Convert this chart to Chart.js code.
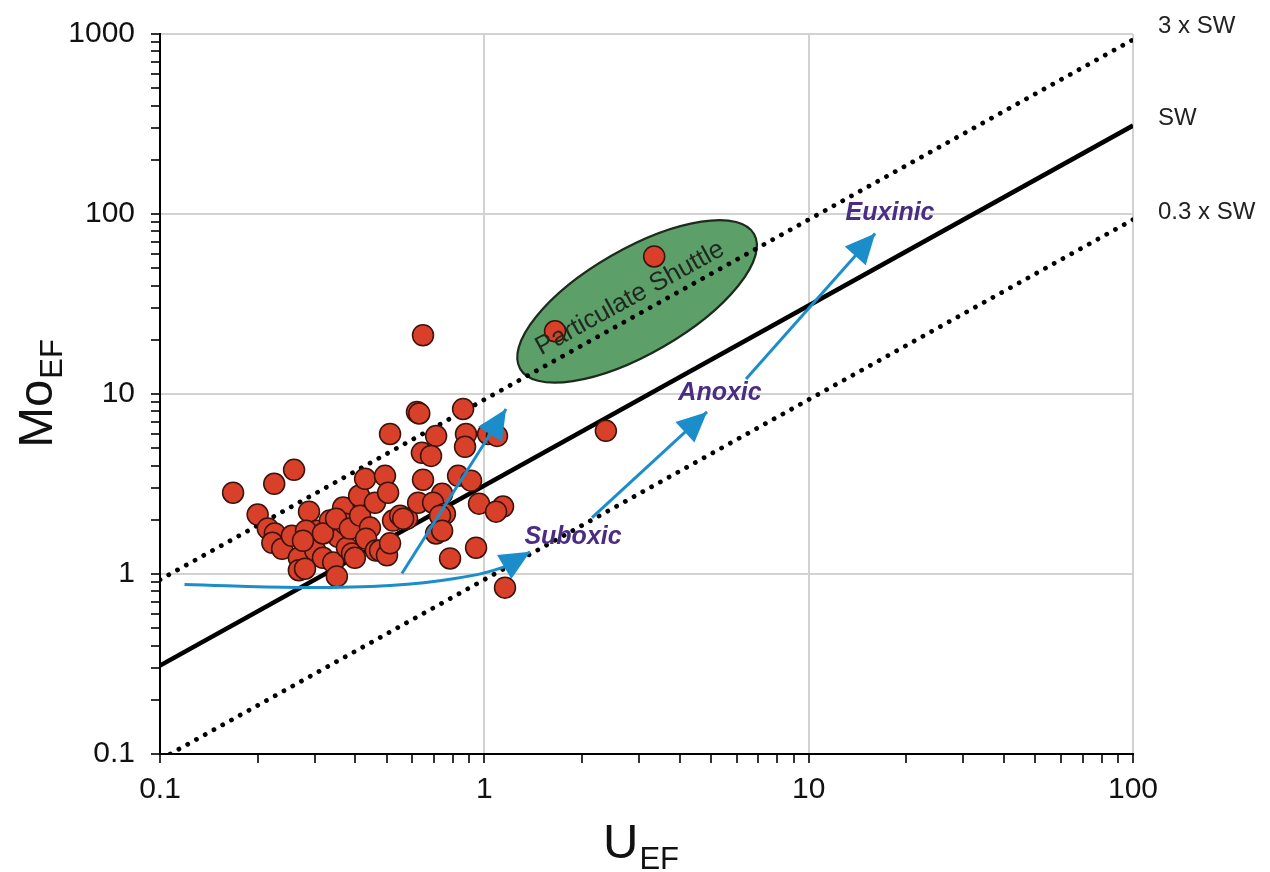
<!DOCTYPE html>
<html><head><meta charset="utf-8">
<script src="https://cdn.jsdelivr.net/npm/chart.js@4.4.1/dist/chart.umd.min.js"></script>
<style>html,body{margin:0;padding:0;background:#fff;}#wrap{width:1270px;height:872px;position:relative;}</style>
</head><body><div id="wrap"><canvas id="c" width="1270" height="872"></canvas></div>
<script>
// ---- data ----
const uEF = [0.168,0.225,0.259,0.200,0.215,0.226,0.222,0.238,0.255,0.268,0.268,0.288,0.305,0.282,0.301,0.318,0.342,0.351,0.354,0.367,0.334,0.318,0.372,0.377,0.276,0.280,0.349,0.385,0.391,0.411,0.429,0.414,0.444,0.432,0.460,0.463,0.494,0.505,0.523,0.550,0.477,0.501,0.399,0.512,0.578,0.512,0.647,0.620,0.630,0.860,0.710,0.642,0.685,0.878,0.872,1.027,1.094,0.647,0.830,0.910,0.625,0.741,0.695,0.963,1.142,1.087,0.562,0.756,0.730,0.710,0.741,0.784,0.943,1.158,1.652,3.34,2.37];
const moEF = [2.83,3.17,3.79,2.14,1.79,1.68,1.49,1.38,1.63,1.23,1.05,2.22,1.74,1.74,1.35,1.23,1.16,0.97,1.61,2.34,1.98,1.68,1.90,1.40,1.53,1.07,2.03,1.79,1.30,2.72,3.38,2.11,1.81,1.57,2.49,1.35,3.51,2.83,1.98,2.11,1.35,1.27,1.23,6.0,2.03,1.48,21.2,7.95,7.8,8.26,5.85,4.71,4.53,5.99,5.09,6.0,5.85,3.34,3.51,3.30,2.49,2.79,2.49,2.46,2.37,2.22,2.03,2.16,2.11,1.68,1.74,1.22,1.40,0.84,22.3,58.1,6.24];

const xTickValues = [0.1, 1, 10, 100];
const yTickValues = [0.1, 1, 10, 100, 1000];

// seawater Mo/U reference lines
const swU = [0.1, 100];
const swMo = [0.31, 310];
const sw3U = [0.1, 100];
const sw3Mo = [0.93, 930];
const sw03U = [0.1075, 100];
const sw03Mo = [0.1, 93];
const swLabels = ['3 x SW', 'SW', '0.3 x SW'];
const swLabelMo = [1108, 342, 102];

// blue pathway arrows
const suboxicPathU = [0.119, 0.270, 0.512, 0.812, 1.158, 1.383];
const suboxicPathMo = [0.875, 0.841, 0.864, 0.944, 1.10, 1.33];
const arrow1U = [0.557, 1.167];
const arrow1Mo = [1.006, 8.26];
const arrow2U = [2.148, 4.86];
const arrow2Mo = [2.056, 7.95];
const arrow3U = [6.41, 16.03];
const arrow3Mo = [12.1, 78.0];

const stageLabels = ['Suboxic', 'Anoxic', 'Euxinic'];
const stageU = [1.877, 5.33, 17.82];
const stageMo = [1.594, 10.13, 100.6];

// particulate shuttle field (centre, major-axis vertex, minor-axis vertex)
const shuttleCenter = [2.958, 32.7];
const shuttleMajor = [6.785, 77.5];
const shuttleMinor = [2.44, 58.0];
const shuttleLabel = 'Particulate Shuttle';
const shuttleLabelPos = [2.814, 34.0];

// ---- helpers ----
const zip = (xs, ys) => xs.map((x, i) => ({x, y: ys[i]}));
function logTicks(majors){
  const t = [];
  for (let i = 0; i < majors.length - 1; i++)
    for (let m = 1; m <= 9; m++) t.push({value: +(majors[i]*m).toPrecision(6)});
  t.push({value: majors[majors.length-1]});
  return t;
}
const FONT = '"Liberation Sans", Arial, sans-serif';
const BLUE = '#1c8dcb';

const decor = {
  id: 'decor',
  beforeDatasetsDraw(chart){
    const {ctx, scales:{x, y}} = chart;
    const cx = x.getPixelForValue(shuttleCenter[0]), cy = y.getPixelForValue(shuttleCenter[1]);
    const mx = x.getPixelForValue(shuttleMajor[0]), my = y.getPixelForValue(shuttleMajor[1]);
    const nx = x.getPixelForValue(shuttleMinor[0]), ny = y.getPixelForValue(shuttleMinor[1]);
    const a = Math.hypot(mx-cx, my-cy), b = Math.hypot(nx-cx, ny-cy);
    const ang = Math.atan2(my-cy, mx-cx);
    ctx.save();
    ctx.beginPath();
    ctx.ellipse(cx, cy, a, b, ang, 0, Math.PI*2);
    ctx.fillStyle = '#5c9f69';
    ctx.fill();
    ctx.lineWidth = 2.2;
    ctx.strokeStyle = '#1d2b1d';
    ctx.stroke();
    ctx.restore();
  },
  afterDatasetsDraw(chart){
    const {ctx} = chart;
    chart.data.datasets.forEach((ds, i) => {
      if (!ds.isArrow) return;
      const pts = chart.getDatasetMeta(i).data;
      const tip = pts[pts.length-1], prev = pts[pts.length-2];
      const dx = tip.x - prev.x, dy = tip.y - prev.y, d = Math.hypot(dx, dy);
      const ux = dx/d, uy = dy/d, L = 30, W = 14;
      ctx.save();
      ctx.beginPath();
      ctx.moveTo(tip.x, tip.y);
      ctx.lineTo(tip.x - L*ux - W*uy, tip.y - L*uy + W*ux);
      ctx.lineTo(tip.x - L*ux + W*uy, tip.y - L*uy - W*ux);
      ctx.closePath();
      ctx.fillStyle = BLUE;
      ctx.fill();
      ctx.restore();
    });
  },
  afterDraw(chart){
    const {ctx, chartArea, scales:{x, y}} = chart;
    ctx.save();
    // shuttle label
    const sx = x.getPixelForValue(shuttleLabelPos[0]), sy = y.getPixelForValue(shuttleLabelPos[1]);
    const cx = x.getPixelForValue(shuttleCenter[0]), cy = y.getPixelForValue(shuttleCenter[1]);
    const mx = x.getPixelForValue(shuttleMajor[0]), my = y.getPixelForValue(shuttleMajor[1]);
    ctx.translate(sx, sy);
    ctx.rotate(Math.atan2(my-cy, mx-cx) + 0.02);
    ctx.font = '26px ' + FONT;
    ctx.fillStyle = '#1f291f';
    ctx.textAlign = 'center';
    ctx.textBaseline = 'middle';
    ctx.fillText(shuttleLabel, 0, 0);
    ctx.restore();

    // stage labels
    ctx.save();
    ctx.font = 'italic bold 25px ' + FONT;
    ctx.fillStyle = '#4a2c85';
    ctx.textAlign = 'center';
    ctx.textBaseline = 'middle';
    stageLabels.forEach((t, i) => ctx.fillText(t, x.getPixelForValue(stageU[i]), y.getPixelForValue(stageMo[i])));
    ctx.restore();

    // right-hand SW labels
    ctx.save();
    ctx.font = '24px ' + FONT;
    ctx.fillStyle = '#222';
    ctx.textAlign = 'left';
    ctx.textBaseline = 'middle';
    swLabels.forEach((t, i) => ctx.fillText(t, chartArea.right + 25, y.getPixelForValue(swLabelMo[i])));
    ctx.restore();

    // axis titles with subscripts
    ctx.save();
    ctx.fillStyle = '#111';
    ctx.textBaseline = 'alphabetic';
    ctx.textAlign = 'left';
    const big = '49px ' + FONT, small = '31px ' + FONT;
    ctx.font = big; const wU = ctx.measureText('U').width;
    ctx.font = small; const wE = ctx.measureText('EF').width;
    let x0 = (chartArea.left + chartArea.right)/2 - (wU + wE)/2 - 6;
    ctx.font = big; ctx.fillText('U', x0, 858);
    ctx.font = small; ctx.fillText('EF', x0 + wU + 1, 869);
    ctx.restore();

    ctx.save();
    ctx.fillStyle = '#111';
    ctx.translate(52, (chartArea.top + chartArea.bottom)/2);
    ctx.rotate(-Math.PI/2);
    ctx.textAlign = 'left';
    ctx.textBaseline = 'alphabetic';
    ctx.font = big; const wM = ctx.measureText('Mo').width;
    const start = -(wM + wE)/2;
    ctx.fillText('Mo', start, 0);
    ctx.font = small; ctx.fillText('EF', start + wM + 1, 10);
    ctx.restore();
  }
};

const lineBase = {showLine: true, pointRadius: 0, pointHoverRadius: 0, fill: false};
const dotted = {borderColor: '#000', borderWidth: 4.8, borderDash: [0.01, 10], borderCapStyle: 'round'};

const datasets = [
  Object.assign({data: zip(sw3U, sw3Mo), order: 5}, lineBase, dotted),
  Object.assign({data: zip(sw03U, sw03Mo), order: 5}, lineBase, dotted),
  Object.assign({data: zip(swU, swMo), order: 5, borderColor: '#000', borderWidth: 4.5}, lineBase),
  {data: zip(uEF, moEF), order: 3, showLine: false, pointRadius: 10.5, pointHoverRadius: 10.5,
   backgroundColor: '#d8402a', borderColor: '#3a130c', borderWidth: 1.5},
  Object.assign({data: zip(suboxicPathU, suboxicPathMo), order: 1, isArrow: true, borderColor: BLUE, borderWidth: 3, tension: 0.4}, lineBase),
  Object.assign({data: zip(arrow1U, arrow1Mo), order: 1, isArrow: true, borderColor: BLUE, borderWidth: 3}, lineBase),
  Object.assign({data: zip(arrow2U, arrow2Mo), order: 1, isArrow: true, borderColor: BLUE, borderWidth: 3}, lineBase),
  Object.assign({data: zip(arrow3U, arrow3Mo), order: 1, isArrow: true, borderColor: BLUE, borderWidth: 3}, lineBase),
];

function axisGrid(majors){
  return {
    color: c => (c.tick && majors.includes(c.tick.value)) ? '#d2d2d2' : 'rgba(0,0,0,0)',
    lineWidth: 2,
    tickColor: '#000',
    tickWidth: 1.6,
    tickLength: 9,
    drawTicks: true
  };
}

new Chart(document.getElementById('c'), {
  type: 'scatter',
  data: {datasets},
  options: {
    responsive: false,
    animation: false,
    events: [],
    layout: {padding: {top: 32, right: 137, left: 0, bottom: 0}},
    plugins: {legend: {display: false}, tooltip: {enabled: false}},
    scales: {
      x: {
        type: 'logarithmic', min: 0.1, max: 100,
        afterBuildTicks: s => { s.ticks = logTicks(xTickValues); },
        afterFit: s => { s.height = 118; },
        grid: axisGrid(xTickValues),
        border: {display: true, color: '#000', width: 2},
        ticks: {autoSkip: false, maxRotation: 0, minRotation: 0, padding: 9, color: '#111',
          font: {family: FONT, size: 30},
          callback: v => xTickValues.includes(v) ? String(v) : ''}
      },
      y: {
        type: 'logarithmic', min: 0.1, max: 1000,
        afterBuildTicks: s => { s.ticks = logTicks(yTickValues); },
        afterFit: s => { s.width = 160; },
        grid: axisGrid(yTickValues),
        border: {display: true, color: '#000', width: 2},
        ticks: {autoSkip: false, padding: 16, color: '#111',
          font: {family: FONT, size: 30},
          callback: v => yTickValues.includes(v) ? String(v) : ''}
      }
    }
  },
  plugins: [decor]
});
</script></body></html>
